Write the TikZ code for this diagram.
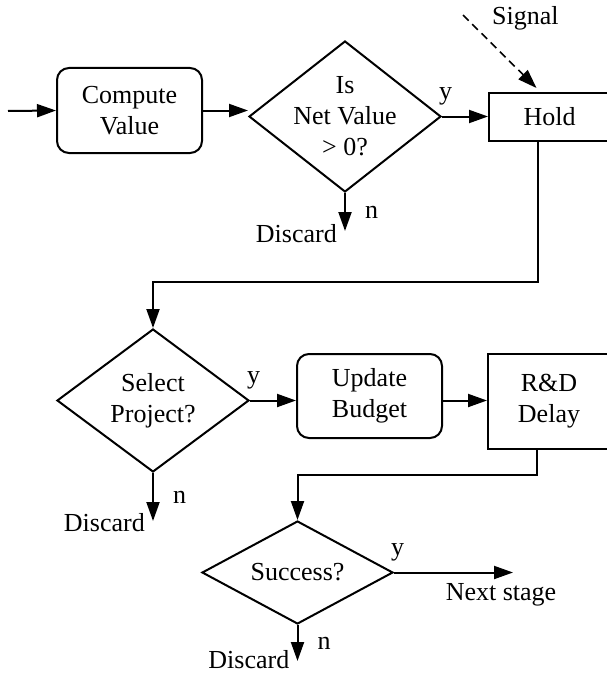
\documentclass[tikz,border=0pt]{standalone}
\usepackage{fontspec}
\setmainfont{Liberation Serif}
\usetikzlibrary{shapes.geometric,arrows.meta}

\tikzset{
  wire/.style={line width=2pt},
  process/.style={draw, line width=2pt, rounded corners=12pt, inner sep=0pt},
  delaybox/.style={draw, line width=2pt, inner sep=0pt},
  decision/.style={draw, diamond, line width=2pt, inner sep=-12pt},
  yeslab/.style={pos=0, anchor=south west, inner sep=0pt, xshift=-4pt, yshift=10pt},
  nolab/.style={midway, anchor=west, inner sep=0pt, xshift=19pt},
  discard/.style={anchor=east, inner sep=0pt}
}

\begin{document}
\begin{tikzpicture}[x=1pt, y=-1pt, >={Triangle[length=19pt,width=13pt]},
  every node/.style={font=\fontsize{26}{31}\selectfont, align=center}]
\useasboundingbox (0,0) rectangle (606,677);

% top row
\coordinate (start) at (8,111);
\node[process, minimum width=145pt, minimum height=85pt] (comp) at (129.5,110.5) {Compute\\Value};
\node[decision, minimum width=192pt, minimum height=151pt] (isnv) at (345,116.5) {Is\\Net Value\\> 0?};
\node[delaybox, minimum width=121pt, minimum height=48pt] (hold) at (549.5,117) {Hold};

\draw[->, wire] (start) -- (comp.west);
\draw[->, wire] (comp.east) -- (comp.east -| isnv.west);
\draw[->, wire] (isnv.east) -- node[yeslab] (isnvy) {y} (isnv.east -| hold.west);

% release signal
\coordinate (sigsrc) at (463,15);
\coordinate (sigtip) at ([xshift=-13pt, yshift=4pt]hold.north);
\draw[->, line width=1.6pt, dash pattern=on 8pt off 5pt] (sigsrc) -- (sigtip);
\node[anchor=west, inner sep=0pt] (sig) at (492,18) {Signal};

% middle row
\node[decision, minimum width=192pt, minimum height=143pt] (sel) at (153,400.5) {Select\\Project?};
\node[process, anchor=north, minimum width=145pt, minimum height=84pt] (upd) at (369.5,353) {Update\\Budget};
\node[delaybox, anchor=north, minimum width=122pt, minimum height=95pt] (rd) at (549,353) {R\&D\\Delay};

\draw[->, wire] ([xshift=-12pt]hold.south) -- ++(0,140) -| (sel.north);
\draw[->, wire] (sel.east) -- node[yeslab] (sely) {y} (sel.east -| upd.west);
\draw[->, wire] (sel.east -| upd.east) -- (sel.east -| rd.west);

% bottom row
\node[decision, minimum width=191pt, minimum height=103pt] (succ) at (297.5,572.5) {Success?};
\coordinate (next) at (513,572.5);

\draw[->, wire] ([xshift=-12pt]rd.south) -- ++(0,25) -| (succ.north);
\draw[->, wire] (succ.east) -- node[yeslab] (succy) {y} (next);
\node (nextlab) at (501,595) {Next stage};

% rejected branches
\foreach \d/\len/\dy in {isnv/38/-3, sel/48/-2, succ/36/1}
{
    \coordinate (\d-no) at ([yshift=-\len pt]\d.south);
    \draw[->, wire] (\d.south) -- node[nolab] (\d-n) {n} (\d-no);
    \node[discard] (\d-disc) at ([xshift=-8pt, yshift=\dy pt]\d-no) {Discard};
}
\end{tikzpicture}
\end{document}
